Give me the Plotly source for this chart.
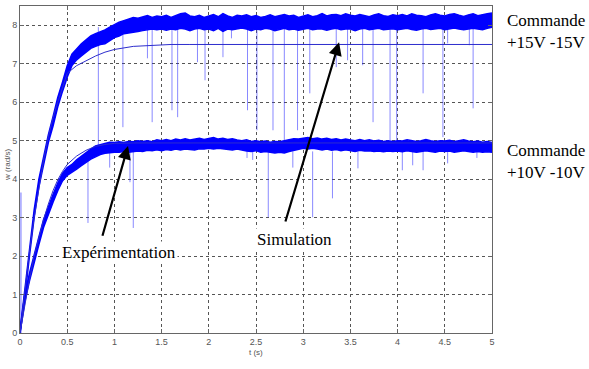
import plotly.graph_objects as go

# ---------------- data ----------------
t_env = [0.0, 0.05, 0.1, 0.15, 0.2, 0.25, 0.3, 0.35, 0.4, 0.45,
         0.5, 0.55, 0.6, 0.65, 0.7, 0.75, 0.8, 0.85, 0.9, 0.95,
         1.0, 1.05, 1.1, 1.15, 1.2, 1.25, 1.3, 1.35, 1.4, 1.45,
         1.5, 1.55, 1.6, 1.65, 1.7, 1.75, 1.8, 1.85, 1.9, 1.95,
         2.0, 2.05, 2.1, 2.15, 2.2, 2.25, 2.3, 2.35, 2.4, 2.45,
         2.5, 2.55, 2.6, 2.65, 2.7, 2.75, 2.8, 2.85, 2.9, 2.95,
         3.0, 3.05, 3.1, 3.15, 3.2, 3.25, 3.3, 3.35, 3.4, 3.45,
         3.5, 3.55, 3.6, 3.65, 3.7, 3.75, 3.8, 3.85, 3.9, 3.95,
         4.0, 4.05, 4.1, 4.15, 4.2, 4.25, 4.3, 4.35, 4.4, 4.45,
         4.5, 4.55, 4.6, 4.65, 4.7, 4.75, 4.8, 4.85, 4.9, 4.95, 5.0]

# Experimental, command +15V -15V : upper / lower edge of the noisy band
exp15_hi = [0.05, 1.1, 2.2, 3.2, 4.0, 4.6, 5.15, 5.62, 6.12, 6.52,
            6.95, 7.25, 7.4, 7.52, 7.62, 7.72, 7.78, 7.82, 7.88, 7.95,
            8.02, 8.08, 8.12, 8.15, 8.2, 8.18, 8.22, 8.25, 8.2, 8.24,
            8.22, 8.26, 8.2, 8.25, 8.3, 8.32, 8.24, 8.22, 8.26, 8.2,
            8.25, 8.28, 8.22, 8.3, 8.24, 8.2, 8.26, 8.24, 8.27, 8.22,
            8.25, 8.2, 8.23, 8.27, 8.22, 8.25, 8.28, 8.24, 8.26, 8.2,
            8.23, 8.27, 8.22, 8.25, 8.3, 8.24, 8.27, 8.28, 8.25, 8.3,
            8.26, 8.24, 8.28, 8.25, 8.22, 8.27, 8.3, 8.25, 8.23, 8.27,
            8.25, 8.28, 8.24, 8.3, 8.26, 8.25, 8.22, 8.27, 8.3, 8.26,
            8.24, 8.28, 8.3, 8.26, 8.23, 8.27, 8.3, 8.25, 8.28, 8.3, 8.32]
exp15_lo = [0.0, 0.9, 2.0, 3.0, 3.8, 4.4, 4.95, 5.38, 5.88, 6.28,
            6.65, 6.95, 7.1, 7.2, 7.3, 7.4, 7.45, 7.5, 7.52, 7.6,
            7.68, 7.72, 7.78, 7.8, 7.83, 7.84, 7.86, 7.88, 7.9, 7.88,
            7.9, 7.87, 7.9, 7.88, 7.92, 7.9, 7.86, 7.9, 7.92, 7.88,
            7.9, 7.86, 7.92, 7.84, 7.9, 7.88, 7.9, 7.93, 7.9, 7.86,
            7.9, 7.88, 7.92, 7.9, 7.86, 7.89, 7.92, 7.88, 7.9, 7.87,
            7.9, 7.92, 7.88, 7.9, 7.9, 7.87, 7.9, 7.92, 7.88, 7.9,
            7.9, 7.86, 7.9, 7.92, 7.88, 7.9, 7.92, 7.88, 7.9, 7.91,
            7.88, 7.9, 7.92, 7.89, 7.87, 7.9, 7.92, 7.89, 7.9, 7.92,
            7.88, 7.9, 7.93, 7.9, 7.88, 7.9, 7.92, 7.9, 7.88, 7.92, 7.95]

# Experimental, command +10V -10V
exp10_hi = [0.05, 1.0, 1.55, 2.05, 2.5, 2.95, 3.3, 3.6, 3.9, 4.15,
            4.3, 4.38, 4.5, 4.6, 4.7, 4.78, 4.86, 4.9, 4.94, 4.96,
            4.95, 4.97, 4.95, 4.98, 4.97, 5.0, 4.98, 5.0, 4.97, 5.02,
            5.0, 5.03, 5.0, 5.04, 5.02, 5.05, 5.02, 5.04, 5.06, 5.03,
            5.05, 5.08, 5.04, 5.06, 5.03, 5.05, 5.02, 5.0, 5.02, 4.98,
            5.0, 4.97, 4.99, 4.96, 4.98, 4.97, 5.0, 5.02, 5.05, 5.04,
            5.06, 5.08, 5.05, 5.07, 5.04, 5.06, 5.03, 5.05, 5.02, 5.04,
            5.02, 5.0, 5.03, 5.0, 5.02, 4.99, 5.01, 4.98, 5.0, 4.98,
            5.0, 4.99, 5.02, 5.0, 4.98, 5.0, 5.03, 5.0, 4.98, 5.0,
            4.99, 5.01, 4.98, 5.0, 5.02, 4.99, 4.97, 4.99, 4.96, 4.98, 4.95]
exp10_lo = [0.0, 0.8, 1.35, 1.85, 2.3, 2.75, 3.1, 3.4, 3.7, 3.95,
            4.1, 4.17, 4.26, 4.35, 4.44, 4.52, 4.58, 4.64, 4.67, 4.69,
            4.7, 4.7, 4.72, 4.7, 4.72, 4.73, 4.72, 4.75, 4.74, 4.76,
            4.74, 4.77, 4.75, 4.78, 4.76, 4.78, 4.77, 4.76, 4.79, 4.78,
            4.8, 4.78, 4.8, 4.79, 4.77, 4.76, 4.78, 4.75, 4.73, 4.72,
            4.74, 4.7, 4.72, 4.7, 4.68, 4.7, 4.68, 4.72, 4.75, 4.77,
            4.8, 4.78, 4.8, 4.78, 4.76, 4.78, 4.75, 4.77, 4.74, 4.76,
            4.74, 4.72, 4.75, 4.73, 4.74, 4.72, 4.73, 4.71, 4.73, 4.72,
            4.73, 4.71, 4.74, 4.72, 4.7, 4.72, 4.74, 4.72, 4.7, 4.73,
            4.72, 4.73, 4.7, 4.72, 4.74, 4.72, 4.7, 4.72, 4.7, 4.71, 4.7]

# Simulation curves
sim_t = [0.0, 0.05, 0.1, 0.15, 0.2, 0.25, 0.3, 0.35, 0.4, 0.45, 0.5,
         0.6, 0.7, 0.8, 0.9, 1.0, 1.2, 1.4, 1.6, 1.8, 2.0, 2.5, 3.0, 4.0, 5.0]
sim15 = [0.0, 1.1, 2.1, 3.0, 3.8, 4.5, 5.1, 5.6, 6.0, 6.35, 6.75,
         6.95, 7.08, 7.2, 7.3, 7.37, 7.45, 7.48, 7.5, 7.5, 7.5, 7.5, 7.5, 7.5, 7.5]
sim10 = [0.0, 0.75, 1.4, 2.0, 2.5, 2.95, 3.35, 3.7, 3.98, 4.2, 4.38,
         4.6, 4.75, 4.85, 4.9, 4.93, 4.94, 4.94, 4.94, 4.94, 4.94, 4.94, 4.94, 4.94, 4.94]

# Downward measurement spikes (time, lowest value reached)
spike15_base = 7.95
spikes15_t = [0.83, 1.09, 1.35, 1.40, 1.61, 1.67, 1.88, 1.96, 2.15, 2.24,
              2.41, 2.51, 2.68, 2.80, 2.94, 3.07, 3.35, 3.47, 3.63, 3.74,
              3.92, 3.99, 4.27, 4.48, 4.53, 4.76, 4.80]
spikes15_min = [4.88, 5.35, 7.14, 5.48, 5.79, 5.61, 7.04, 6.57, 7.17, 7.66,
                5.79, 5.27, 5.27, 4.94, 5.27, 6.23, 6.91, 7.09, 6.96, 5.48,
                5.01, 5.01, 6.23, 5.09, 7.53, 7.48, 5.84]
spike10_base = 4.72
spikes10_t = [0.72, 0.95, 1.165, 1.2, 2.405, 2.465, 2.63, 2.89, 3.1, 3.31,
              3.58, 4.05, 4.16, 4.27, 4.53, 4.84]
spikes10_min = [2.86, 4.3, 3.92, 2.73, 4.55, 4.5, 3.01, 4.3, 3.01, 3.5,
                4.28, 4.23, 4.36, 4.23, 4.41, 4.55]
start_spike_t = [0.01]
start_spike_max = [3.65]

x_ticks = [0, 0.5, 1, 1.5, 2, 2.5, 3, 3.5, 4, 4.5, 5]
x_ticktext = ["0", "0.5", "1", "1.5", "2", "2.5", "3", "3.5", "4", "4.5", "5"]
y_ticks = [0, 1, 2, 3, 4, 5, 6, 7, 8]

# labels: (text, x, y) ; the "Commande" labels sit right of the plot (x in paper units)
label_cmd15 = ("Commande<br>+15V -15V", 1.027, 7.85)
label_cmd10 = ("Commande<br>+10V -10V", 1.027, 4.45)
label_exp = ("Expérimentation", 1.049, 2.08)
label_sim = ("Simulation", 2.908, 2.42)
# arrows: head (x, y), tail (x, y)
arrow_exp = (1.144, 4.86, 0.869, 2.49)
arrow_sim = (3.38, 7.56, 2.807, 2.86)

BLUE = "#0000FF"
SPIKE = "rgba(40,40,255,0.55)"
SIM = "rgb(45,45,205)"

fig = go.Figure()


def spike_xy(ts, tops, bottoms):
    xs, ys = [], []
    for t, a, b in zip(ts, tops, bottoms):
        xs += [t, t, None]
        ys += [a, b, None]
    return xs, ys


sx, sy = spike_xy(spikes15_t, [spike15_base] * len(spikes15_t), spikes15_min)
fig.add_trace(go.Scatter(x=sx, y=sy, mode="lines", line=dict(color=SPIKE, width=1),
                         hoverinfo="skip"))
sx, sy = spike_xy(spikes10_t, [spike10_base] * len(spikes10_t), spikes10_min)
fig.add_trace(go.Scatter(x=sx, y=sy, mode="lines", line=dict(color=SPIKE, width=1),
                         hoverinfo="skip"))
sx, sy = spike_xy(start_spike_t, [0] * len(start_spike_t), start_spike_max)
fig.add_trace(go.Scatter(x=sx, y=sy, mode="lines", line=dict(color=SPIKE, width=1.2),
                         hoverinfo="skip"))

for lo, hi in [(exp15_lo, exp15_hi), (exp10_lo, exp10_hi)]:
    fig.add_trace(go.Scatter(x=t_env, y=lo, mode="lines",
                             line=dict(color=BLUE, width=1.5)))
    fig.add_trace(go.Scatter(x=t_env, y=hi, mode="lines", fill="tonexty",
                             fillcolor=BLUE, line=dict(color=BLUE, width=1.5)))

for s in (sim15, sim10):
    fig.add_trace(go.Scatter(x=sim_t, y=s, mode="lines",
                             line=dict(color=SIM, width=1)))

axis_common = dict(
    showgrid=True, gridcolor="#555", griddash="dot", gridwidth=1,
    showline=True, linecolor="#666", linewidth=1, mirror="ticks",
    ticks="inside", ticklen=4, tickcolor="#666", zeroline=False,
    tickfont=dict(family="Liberation Sans", size=9, color="#555"),
)
fig.update_xaxes(range=[0, 5], tickvals=x_ticks, ticktext=x_ticktext, **axis_common)
fig.update_yaxes(range=[0, 8.5], tickvals=y_ticks, **axis_common)

serif = dict(family="Liberation Serif", size=17, color="black")
anns = []
for txt, x, y in (label_cmd15, label_cmd10):
    anns.append(dict(text=txt, x=x, y=y, xref="paper", yref="y", xanchor="left",
                     yanchor="middle", align="left", showarrow=False, font=serif))
for txt, x, y in (label_exp, label_sim):
    anns.append(dict(text=txt, x=x, y=y, xref="x", yref="y", xanchor="center",
                     yanchor="middle", showarrow=False, font=serif,
                     bgcolor="white"))
for hx, hy, tx, ty in (arrow_exp, arrow_sim):
    anns.append(dict(text="", x=hx, y=hy, ax=tx, ay=ty, xref="x", yref="y",
                     axref="x", ayref="y", showarrow=True, arrowhead=2,
                     arrowsize=1.2, arrowwidth=2.2, arrowcolor="black", standoff=0))
anns.append(dict(text="w (rad/s)", x=-0.026, y=4.36, xref="paper", yref="y",
                 textangle=-90, showarrow=False, xanchor="center", yanchor="middle",
                 font=dict(family="Liberation Sans", size=8, color="#555")))
anns.append(dict(text="t (s)", x=2.5, y=-0.06, xref="x", yref="paper",
                 xanchor="center", yanchor="middle", showarrow=False,
                 font=dict(family="Liberation Sans", size=8, color="#555")))

fig.update_layout(
    width=589, height=369,
    margin=dict(l=20, r=97, t=6, b=36, autoexpand=False),
    plot_bgcolor="white", paper_bgcolor="white",
    showlegend=False, annotations=anns,
)

fig.write_html("out.html")
